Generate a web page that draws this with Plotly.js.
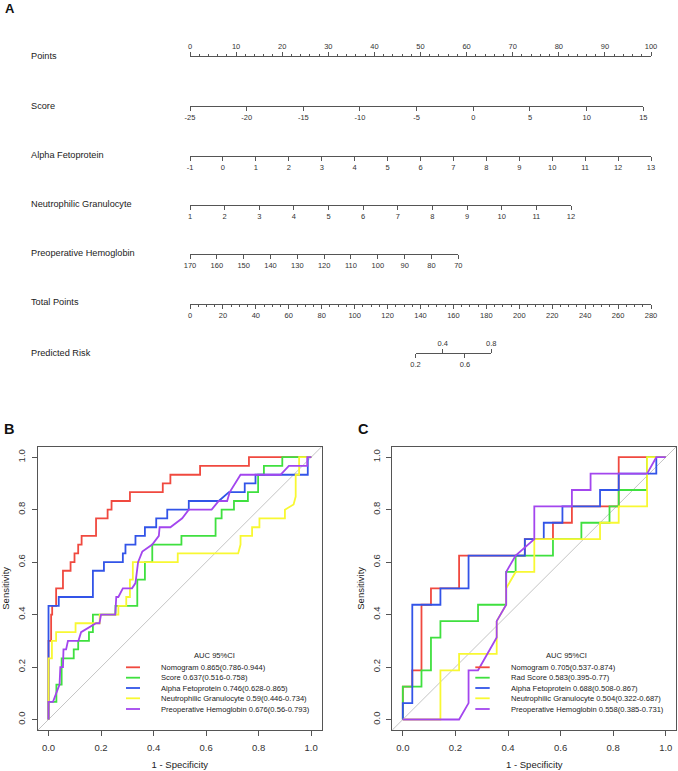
<!DOCTYPE html>
<html>
<head>
<meta charset="utf-8">
<script src="https://cdn.plot.ly/plotly-3.0.1.min.js"></script>
<style>
  html, body { margin: 0; padding: 0; background: #fff; }
  #chart { width: 678px; height: 771px; }
</style>
</head>
<body>
<div id="chart"></div>
<script>
// ---------- A: nomogram scales ----------
const pointsTicks = [0, 10, 20, 30, 40, 50, 60, 70, 80, 90, 100];
const scoreTicks = [-25, -20, -15, -10, -5, 0, 5, 10, 15];
const afpTicks = [-1, 0, 1, 2, 3, 4, 5, 6, 7, 8, 9, 10, 11, 12, 13];
const neutTicks = [1, 2, 3, 4, 5, 6, 7, 8, 9, 10, 11, 12];
const hbTicks = [170, 160, 150, 140, 130, 120, 110, 100, 90, 80, 70];
const totalTicks = [0, 20, 40, 60, 80, 100, 120, 140, 160, 180, 200, 220, 240, 260, 280];
const riskLabels = [0.2, 0.4, 0.6, 0.8];
const riskAtTotal = [137, 153.5, 167, 183];   // total points where each risk sits

// ---------- B: training ROC ----------
const namesB = ["Nomogram", "Score", "Alpha Fetoprotein", "Neutrophilic Granulocyte", "Preoperative Hemoglobin"];
const aucB = ["0.865", "0.637", "0.746", "0.59", "0.676"];
const ciB = ["0.786-0.944", "0.516-0.758", "0.628-0.865", "0.446-0.734", "0.56-0.793"];

const nomoB_fpr = [0, 0, 0.010, 0.010, 0.014, 0.014, 0.029, 0.029, 0.055, 0.055, 0.084, 0.084, 0.099, 0.099, 0.113, 0.113, 0.126, 0.126, 0.181, 0.181, 0.225, 0.225, 0.240, 0.240, 0.310, 0.310, 0.435, 0.435, 0.464, 0.464, 0.577, 0.577, 0.763, 0.763, 1];
const nomoB_tpr = [0, 0.300, 0.300, 0.400, 0.400, 0.433, 0.433, 0.500, 0.500, 0.567, 0.567, 0.600, 0.600, 0.633, 0.633, 0.667, 0.667, 0.700, 0.700, 0.767, 0.767, 0.800, 0.800, 0.833, 0.833, 0.867, 0.867, 0.900, 0.900, 0.933, 0.933, 0.967, 0.967, 1, 1];

const scoreB_fpr = [0, 0, 0.030, 0.030, 0.050, 0.050, 0.096, 0.096, 0.113, 0.113, 0.154, 0.154, 0.169, 0.169, 0.255, 0.255, 0.338, 0.338, 0.367, 0.367, 0.395, 0.395, 0.506, 0.506, 0.636, 0.636, 0.659, 0.659, 0.706, 0.706, 0.759, 0.759, 0.798, 0.798, 0.820, 0.820, 0.890, 0.890, 1];
const scoreB_tpr = [0, 0.067, 0.067, 0.133, 0.133, 0.233, 0.233, 0.267, 0.267, 0.300, 0.300, 0.333, 0.333, 0.400, 0.400, 0.433, 0.433, 0.533, 0.533, 0.600, 0.600, 0.667, 0.667, 0.700, 0.700, 0.767, 0.767, 0.800, 0.800, 0.833, 0.833, 0.867, 0.867, 0.933, 0.933, 0.967, 0.967, 1, 1];

const afpB_fpr = [0, 0, 0.039, 0.039, 0.169, 0.169, 0.211, 0.211, 0.283, 0.283, 0.293, 0.293, 0.331, 0.331, 0.367, 0.367, 0.410, 0.410, 0.452, 0.452, 0.534, 0.534, 0.648, 0.687, 0.747, 0.747, 0.788, 0.788, 0.987, 0.987, 1];
const afpB_tpr = [0, 0.433, 0.433, 0.467, 0.467, 0.567, 0.567, 0.600, 0.600, 0.633, 0.633, 0.667, 0.667, 0.700, 0.700, 0.733, 0.733, 0.767, 0.767, 0.800, 0.800, 0.833, 0.833, 0.867, 0.867, 0.900, 0.900, 0.933, 0.933, 1, 1];

const neutB_fpr = [0, 0, 0.013, 0.013, 0.029, 0.029, 0.103, 0.103, 0.195, 0.195, 0.266, 0.266, 0.296, 0.296, 0.310, 0.310, 0.321, 0.321, 0.492, 0.492, 0.722, 0.731, 0.731, 0.775, 0.775, 0.803, 0.803, 0.900, 0.900, 0.933, 0.941, 0.941, 0.954, 0.954, 1];
const neutB_tpr = [0, 0.233, 0.233, 0.300, 0.300, 0.333, 0.333, 0.367, 0.367, 0.400, 0.400, 0.433, 0.433, 0.467, 0.467, 0.533, 0.533, 0.600, 0.600, 0.633, 0.633, 0.667, 0.700, 0.700, 0.733, 0.733, 0.767, 0.767, 0.800, 0.820, 0.850, 0.933, 0.933, 1, 1];

const hbB_fpr = [0, 0, 0.017, 0.042, 0.045, 0.055, 0.057, 0.067, 0.074, 0.114, 0.124, 0.150, 0.181, 0.194, 0.200, 0.254, 0.258, 0.266, 0.283, 0.318, 0.331, 0.341, 0.357, 0.395, 0.420, 0.423, 0.464, 0.509, 0.534, 0.621, 0.648, 0.680, 0.690, 0.731, 0.883, 0.915, 0.985, 0.985, 1];
const hbB_tpr = [0, 0.067, 0.067, 0.133, 0.200, 0.200, 0.267, 0.267, 0.300, 0.300, 0.333, 0.350, 0.367, 0.367, 0.400, 0.400, 0.467, 0.467, 0.500, 0.500, 0.520, 0.600, 0.640, 0.667, 0.700, 0.733, 0.733, 0.767, 0.800, 0.800, 0.833, 0.833, 0.867, 0.933, 0.933, 0.967, 0.967, 1, 1];

// ---------- C: validation ROC ----------
const namesC = ["Nomogram", "Rad Score", "Alpha Fetoprotein", "Neutrophilic Granulocyte", "Preoperative Hemoglobin"];
const aucC = ["0.705", "0.583", "0.688", "0.504", "0.558"];
const ciC = ["0.537-0.874", "0.395-0.77", "0.508-0.867", "0.322-0.687", "0.385-0.731"];

const nomoC_fpr = [0, 0, 0.036, 0.036, 0.071, 0.071, 0.107, 0.107, 0.214, 0.214, 0.464, 0.464, 0.571, 0.571, 0.643, 0.643, 0.821, 0.821, 1];
const nomoC_tpr = [0, 0.125, 0.125, 0.1875, 0.1875, 0.4375, 0.4375, 0.5, 0.5, 0.625, 0.625, 0.6875, 0.6875, 0.75, 0.75, 0.8125, 0.8125, 1, 1];

const radC_fpr = [0, 0, 0.071, 0.071, 0.107, 0.107, 0.143, 0.143, 0.286, 0.286, 0.393, 0.393, 0.429, 0.429, 0.571, 0.571, 0.679, 0.679, 0.786, 0.786, 0.821, 0.821, 0.929, 0.929, 1];
const radC_tpr = [0, 0.125, 0.125, 0.1875, 0.1875, 0.3125, 0.3125, 0.375, 0.375, 0.4375, 0.4375, 0.5625, 0.5625, 0.625, 0.625, 0.6875, 0.6875, 0.75, 0.75, 0.8125, 0.8125, 0.875, 0.875, 1, 1];

const afpC_fpr = [0, 0, 0.036, 0.036, 0.143, 0.143, 0.25, 0.25, 0.464, 0.464, 0.536, 0.536, 0.607, 0.607, 0.75, 0.75, 0.821, 0.821, 0.964, 0.964, 1];
const afpC_tpr = [0, 0.0625, 0.0625, 0.4375, 0.4375, 0.5, 0.5, 0.625, 0.625, 0.6875, 0.6875, 0.75, 0.75, 0.8125, 0.8125, 0.875, 0.875, 0.9375, 0.9375, 1, 1];

const neutC_fpr = [0, 0.143, 0.143, 0.214, 0.214, 0.357, 0.357, 0.393, 0.393, 0.429, 0.5, 0.5, 0.75, 0.75, 0.821, 0.821, 0.929, 0.929, 1];
const neutC_tpr = [0, 0, 0.1875, 0.1875, 0.25, 0.25, 0.375, 0.4375, 0.5, 0.5625, 0.5625, 0.6875, 0.6875, 0.75, 0.75, 0.8125, 0.8125, 1, 1];

const hbC_fpr = [0, 0.214, 0.25, 0.25, 0.286, 0.357, 0.357, 0.393, 0.393, 0.429, 0.5, 0.5, 0.643, 0.643, 0.714, 0.714, 0.929, 0.964, 1];
const hbC_tpr = [0, 0, 0.0625, 0.1875, 0.1875, 0.3125, 0.375, 0.4375, 0.5625, 0.625, 0.6875, 0.8125, 0.8125, 0.875, 0.875, 0.9375, 0.9375, 1, 1];

const rocTicks = [0, 0.2, 0.4, 0.6, 0.8, 1];
const rocColors = ["#F0493F", "#3FE03F", "#3254E8", "#F8F832", "#A346EE"];

// ---------- layout helpers ----------
const W = 678, H = 771;
const fx = p => p / W;        // pixel -> paper x
const fy = p => 1 - p / H;    // pixel -> paper y
const FONT = "Liberation Sans, Arial, sans-serif";
const AX = "#555";

const traces = [];
const layout = {
  width: W, height: H,
  margin: { t: 0, r: 0, b: 0, l: 0 },
  showlegend: false,
  paper_bgcolor: "#fff", plot_bgcolor: "rgba(0,0,0,0)",   // transparent so stacked nomogram subplots don't hide each other
  font: { family: FONT, color: "#222" },
  annotations: [], shapes: [],
  yaxis3: { domain: [0.5, 1], range: [0, 1], visible: false, fixedrange: true }
};

// one nomogram scale = one free x axis
let axN = 3;
function nomoAxis(vals, text, range, x0, x1, y, side, minorStep) {
  const id = axN++;
  const ax = {
    domain: [fx(x0), fx(x1)], range: range,
    anchor: "free", position: fy(y), side: side,
    showline: true, linecolor: AX, linewidth: 1,
    showgrid: false, zeroline: false, fixedrange: true,
    tickmode: "array", tickvals: vals, ticktext: text,
    ticks: "outside", ticklen: 4, tickcolor: AX, tickwidth: 1,
    tickfont: { size: 7.5, color: "#333" }
  };
  if (minorStep) {
    ax.minor = { tickmode: "linear", tick0: 0, dtick: minorStep, ticks: "outside", ticklen: 2, tickcolor: AX, showgrid: false };
  }
  layout["xaxis" + id] = ax;
  traces.push({ x: range, y: [null, null], xaxis: "x" + id, yaxis: "y3", mode: "lines", hoverinfo: "skip", showlegend: false });
}

const txt = a => a.map(String);
const TOT0 = 190, TOT1 = 651;
const totPx = v => TOT0 + v * (TOT1 - TOT0) / 280;

nomoAxis(pointsTicks, txt(pointsTicks), [0, 100], 190, 651, 56, "top", 2);
nomoAxis(scoreTicks, txt(scoreTicks), [-25, 15], 190, 643.3, 106, "bottom");
nomoAxis(afpTicks, txt(afpTicks), [-1, 13], 190, 651, 155.7, "bottom");
nomoAxis(neutTicks, txt(neutTicks), [1, 12], 190, 571, 205, "bottom");
nomoAxis(hbTicks, txt(hbTicks), [170, 70], 190, 458.3, 254.3, "bottom");
nomoAxis(totalTicks, txt(totalTicks), [0, 280], TOT0, TOT1, 303.5, "bottom", 5);

const rLo = riskAtTotal[0], rHi = riskAtTotal[riskAtTotal.length - 1];
const riskTxt = riskLabels.map(v => v.toFixed(1));
nomoAxis([riskAtTotal[0], riskAtTotal[2]], [riskTxt[0], riskTxt[2]], [rLo, rHi], totPx(rLo), totPx(rHi), 353.3, "bottom");
nomoAxis([riskAtTotal[1], riskAtTotal[3]], [riskTxt[1], riskTxt[3]], [rLo, rHi], totPx(rLo), totPx(rHi), 353.3, "top");

const rowLabels = ["Points", "Score", "Alpha Fetoprotein", "Neutrophilic Granulocyte", "Preoperative Hemoglobin", "Total Points", "Predicted Risk"];
const rowY = [56, 106, 155, 204, 253.5, 302.5, 353];
rowLabels.forEach((t, i) => layout.annotations.push({
  text: t, xref: "paper", yref: "paper", x: fx(29), y: fy(rowY[i]),
  xanchor: "left", yanchor: "middle", showarrow: false, font: { size: 9.2, color: "#222" }
}));

// ---------- ROC panels ----------
function rocAxes(xs, ys, x0, x1) {
  const common = {
    range: [-0.04, 1.04], showline: true, mirror: true, linecolor: AX, linewidth: 1,
    showgrid: false, zeroline: false, fixedrange: true,
    tickmode: "array", tickvals: rocTicks, tickformat: ".1f",
    ticks: "outside", ticklen: 5, tickcolor: AX,
    tickfont: { size: 9.5, color: "#333" }
  };
  layout["xaxis" + xs] = Object.assign({}, common, {
    domain: [fx(x0), fx(x1)], anchor: "y" + ys, ticklabelstandoff: 4,
    title: { text: "1 - Specificity", font: { size: 9.5, color: "#222" }, standoff: 8 }
  });
  layout["yaxis" + ys] = Object.assign({}, common, {
    domain: [fy(730), fy(446.7)], anchor: "x" + xs, tickangle: -90, ticklabelstandoff: 3,
    title: { text: "Sensitivity", font: { size: 9.5, color: "#222" }, standoff: 4 }
  });
  const xr = xs === "" ? "x" : "x" + xs, yr = ys === "" ? "y" : "y" + ys;
  layout.shapes.push({
    type: "line", xref: xr + " domain", yref: yr + " domain", x0: 0, y0: 0, x1: 1, y1: 1,
    line: { color: "#c4c4c4", width: 1 }, layer: "below"
  });
  return [xr, yr];
}

const [xB, yB] = rocAxes("", "", 38, 321.7);
const [xC, yC] = rocAxes("2", "2", 392.3, 676.3);

const seriesB = [[nomoB_fpr, nomoB_tpr], [scoreB_fpr, scoreB_tpr], [afpB_fpr, afpB_tpr], [neutB_fpr, neutB_tpr], [hbB_fpr, hbB_tpr]];
const seriesC = [[nomoC_fpr, nomoC_tpr], [radC_fpr, radC_tpr], [afpC_fpr, afpC_tpr], [neutC_fpr, neutC_tpr], [hbC_fpr, hbC_tpr]];

seriesB.forEach((s, i) => traces.push({ x: s[0], y: s[1], xaxis: xB, yaxis: yB, mode: "lines", name: namesB[i], line: { color: rocColors[i], width: 1.8 } }));
seriesC.forEach((s, i) => traces.push({ x: s[0], y: s[1], xaxis: xC, yaxis: yC, mode: "lines", name: namesC[i], line: { color: rocColors[i], width: 1.8 } }));

// hand-made legends (rows are tighter than plotly's own legend allows)
const legRows = [667.3, 677.7, 688, 698.3, 709];
function legend(names, auc, ci, lx0, lx1, tx, titleX) {
  layout.annotations.push({ text: "AUC 95%CI", xref: "paper", yref: "paper", x: fx(titleX), y: fy(655),
    xanchor: "center", yanchor: "middle", showarrow: false, font: { size: 7.6, color: "#222" } });
  names.forEach((n, i) => {
    layout.shapes.push({ type: "line", xref: "paper", yref: "paper", x0: fx(lx0), x1: fx(lx1), y0: fy(legRows[i]), y1: fy(legRows[i]),
      line: { color: rocColors[i], width: 1.8 } });
    layout.annotations.push({ text: n + " " + auc[i] + "(" + ci[i] + ")", xref: "paper", yref: "paper",
      x: fx(tx), y: fy(legRows[i]), xanchor: "left", yanchor: "middle", showarrow: false,
      font: { size: 7.6, color: "#222" } });
  });
}
legend(namesB, aucB, ciB, 126, 140, 159, 215);
legend(namesC, aucC, ciC, 475.3, 489.7, 509, 566.3);

// panel letters
[["A", 3, 8.5, 13], ["B", 2, 428.5, 14.5], ["C", 356, 428.5, 14.5]].forEach(p => layout.annotations.push({
  text: "<b>" + p[0] + "</b>", xref: "paper", yref: "paper", x: fx(p[1]), y: fy(p[2]),
  xanchor: "left", yanchor: "middle", showarrow: false, font: { size: p[3], color: "#111", family: "Liberation Sans, Arial" }
}));

Plotly.newPlot("chart", traces, layout, { staticPlot: true, displayModeBar: false });
</script>
</body>
</html>
